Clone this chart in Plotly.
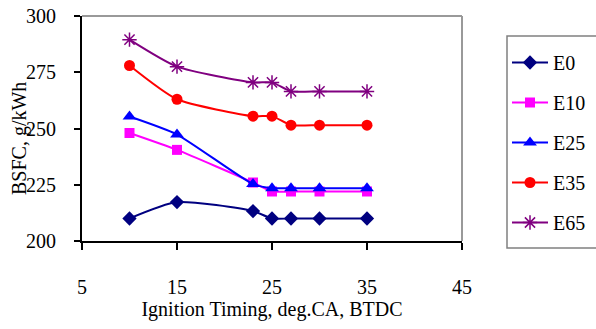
import plotly.graph_objects as go

timing = [10, 15, 23, 25, 27, 30, 35]
e0 = [210, 217.3, 213.3, 210, 210, 210, 210]
e10 = [248, 240.5, 226, 222, 222, 222, 222]
e25 = [255.3, 247.3, 225.3, 223.5, 223.5, 223.5, 223.5]
e35 = [278, 263, 255.5, 255.5, 251.5, 251.5, 251.5]
e65 = [289.5, 277.5, 270.5, 270.5, 266.5, 266.5, 266.5]

names = ["E0", "E10", "E25", "E35", "E65"]
series = [e0, e10, e25, e35, e65]
colors = ["#000080", "#FF00FF", "#0000FF", "#FF0000", "#800080"]
symbols = ["diamond", "square", "triangle-up", "circle", "asterisk-open"]
sizes = [11, 10, 12, 11, 12]

x_ticks = [5, 15, 25, 35, 45]
y_ticks = [200, 225, 250, 275, 300]

FONT = "Liberation Serif"

fig = go.Figure()
for n, s, c, sym, sz in zip(names, series, colors, symbols, sizes):
    marker = dict(symbol=sym, size=sz, color=c, line=dict(color=c, width=1.5 if "open" in sym else 0))
    fig.add_trace(go.Scatter(
        x=timing, y=s, name=n, legendgroup=n,
        mode="lines+markers",
        line=dict(color=c, width=2, shape="spline", smoothing=0.6),
        marker=marker,
    ))

fig.update_layout(
    width=596, height=329,
    margin=dict(l=82, r=134, t=16, b=88),
    paper_bgcolor="white", plot_bgcolor="white",
    font=dict(family=FONT, size=20, color="black"),
    showlegend=True,
    legend=dict(
        xref="container", yref="container",
        x=507 / 596, y=1 - 43 / 329, xanchor="left", yanchor="top",
        borderwidth=0, maxheight=300,
        font=dict(family=FONT, size=20, color="black"),
        tracegroupgap=11, itemwidth=36,
        bgcolor="rgba(0,0,0,0)",
    ),
    shapes=[
        dict(type="line", xref="paper", yref="paper", x0=0, x1=1, y0=1, y1=1,
             line=dict(color="#999999", width=2)),
        dict(type="line", xref="paper", yref="paper", x0=1, x1=1, y0=0, y1=1,
             line=dict(color="#999999", width=2)),
        dict(type="rect", xref="paper", yref="paper",
             x0=(507 - 82) / 380, x1=(620 - 82) / 380,
             y0=(241 - 248) / 225, y1=(241 - 36) / 225,
             line=dict(color="#808080", width=1.5), fillcolor="rgba(0,0,0,0)"),
    ],
    annotations=[
        dict(text="BSFC, g/kWh", textangle=-90, showarrow=False,
             xref="paper", yref="paper", x=(19 - 82) / 380, y=(241 - 139) / 225,
             xanchor="center", yanchor="middle",
             font=dict(family=FONT, size=20, color="black")),
    ],
)
fig.update_xaxes(
    range=[5, 45], tickvals=x_ticks, ticktext=[str(v) for v in x_ticks],
    showgrid=False, zeroline=False, showline=True, linecolor="black", linewidth=2,
    ticks="outside", ticklen=7, tickcolor="black", tickwidth=1.5,
    ticklabelstandoff=20, automargin=False,
    tickfont=dict(family=FONT, size=20, color="black"),
    title=dict(text="Ignition Timing, deg.CA, BTDC", font=dict(family=FONT, size=20), standoff=0),
)
fig.update_yaxes(
    range=[200, 300], tickvals=y_ticks, ticktext=[str(v) for v in y_ticks],
    showgrid=False, zeroline=False, showline=True, linecolor="black", linewidth=2,
    ticks="outside", ticklen=6, tickcolor="black", tickwidth=1.5,
    ticklabelstandoff=14, automargin=False,
    tickfont=dict(family=FONT, size=20, color="black"),
)

fig.write_html("out.html")
